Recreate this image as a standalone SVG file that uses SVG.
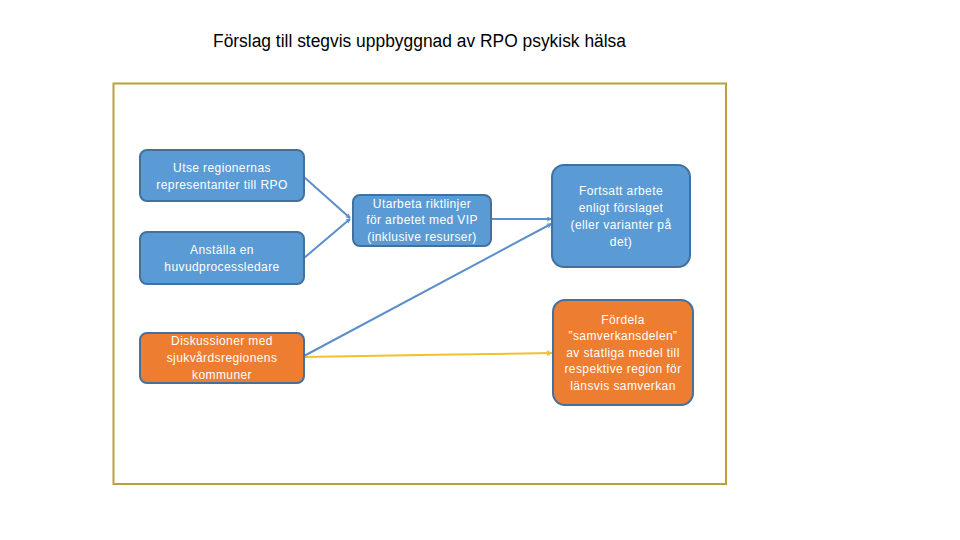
<svg xmlns="http://www.w3.org/2000/svg" width="960" height="540" viewBox="0 0 960 540">
<style>
.title{font-family:"Liberation Sans",Arial,sans-serif;font-size:18px;fill:#000}
.lbl{font-family:"Liberation Sans",Arial,sans-serif;font-size:12px;letter-spacing:0.4px;fill:#fff;text-anchor:middle}
.blue{fill:#5b9bd5;stroke:#41719c;stroke-width:2}
.orange{fill:#ed7d31;stroke:#41719c;stroke-width:2}
.cb{fill:none;stroke:#5b8fc9;stroke-width:2}
.cy{fill:none;stroke:#f2c12e;stroke-width:2}
</style>
<defs>
<marker id="ab" viewBox="0 0 10 10" refX="9" refY="5" markerWidth="5" markerHeight="5" orient="auto" markerUnits="userSpaceOnUse">
<path d="M1,1 L9,5 L1,9" fill="none" stroke="#5b8fc9" stroke-width="2"/>
</marker>
<marker id="ay" viewBox="0 0 10 10" refX="9" refY="5" markerWidth="6" markerHeight="6" orient="auto" markerUnits="userSpaceOnUse">
<path d="M0,0 L10,5 L0,10 z" fill="#f2c12e"/>
</marker>
</defs>
<rect width="960" height="540" fill="#fff"/>
<text class="title" x="213" y="47" textLength="413" lengthAdjust="spacingAndGlyphs">Förslag till stegvis uppbyggnad av RPO psykisk hälsa</text>
<rect id="frame" x="113.5" y="83.5" width="612.5" height="400.5" fill="#fff" stroke="#b8a03a" stroke-width="2"/>
<g id="connectors">
<line class="cb" x1="304" y1="177" x2="350" y2="218" marker-end="url(#ab)"/>
<line class="cb" x1="304" y1="258" x2="350" y2="219" marker-end="url(#ab)"/>
<line class="cb" x1="491" y1="219" x2="551" y2="219" marker-end="url(#ab)"/>
<line class="cb" x1="304" y1="356" x2="551" y2="224" marker-end="url(#ab)"/>
<polyline class="cy" points="304,357 420,355 552,353" marker-end="url(#ay)"/>
</g>
<g id="n1">
<rect class="blue" x="140" y="150" width="164" height="51" rx="7"/>
<text class="lbl" x="222" y="172">Utse regionernas</text>
<text class="lbl" x="222" y="189">representanter till RPO</text>
</g>
<g id="n2">
<rect class="blue" x="140" y="232" width="164" height="52" rx="7"/>
<text class="lbl" x="222" y="254">Anställa en</text>
<text class="lbl" x="222" y="271">huvudprocessledare</text>
</g>
<g id="n3">
<rect class="orange" x="140" y="333" width="164" height="50" rx="7"/>
<text class="lbl" x="222" y="345">Diskussioner med</text>
<text class="lbl" x="222" y="362">sjukvårdsregionens</text>
<text class="lbl" x="222" y="379">kommuner</text>
</g>
<g id="n4">
<rect class="blue" x="353" y="195" width="138" height="51" rx="7"/>
<text class="lbl" x="422" y="208">Utarbeta riktlinjer</text>
<text class="lbl" x="422" y="224">för arbetet med VIP</text>
<text class="lbl" x="422" y="241">(inklusive resurser)</text>
</g>
<g id="n5">
<rect class="blue" x="552" y="165" width="138" height="102" rx="12"/>
<text class="lbl" x="621" y="195">Fortsatt arbete</text>
<text class="lbl" x="621" y="212">enligt förslaget</text>
<text class="lbl" x="621" y="229">(eller varianter på</text>
<text class="lbl" x="621" y="246">det)</text>
</g>
<g id="n6">
<rect class="orange" x="553" y="300" width="140" height="105" rx="12"/>
<text class="lbl" x="623" y="324">Fördela</text>
<text class="lbl" x="623" y="340">”samverkansdelen”</text>
<text class="lbl" x="623" y="357">av statliga medel till</text>
<text class="lbl" x="623" y="373">respektive region för</text>
<text class="lbl" x="623" y="390">länsvis samverkan</text>
</g>
</svg>
